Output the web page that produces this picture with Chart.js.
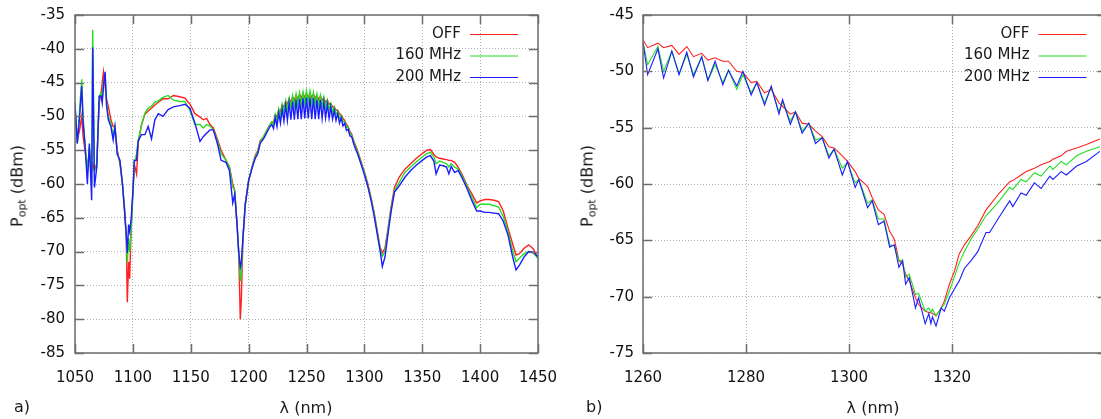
<!DOCTYPE html>
<html>
<head>
<meta charset="utf-8">
<script src="https://cdn.jsdelivr.net/npm/chart.js@4.4.0/dist/chart.umd.min.js"></script>
<style>
  html, body { margin: 0; padding: 0; background: #fff; overflow: hidden; width: 1101px; height: 419px; }
  canvas { position: absolute; top: 0; }
  #chartA { left: 0; }
  #chartB { left: 550px; }
  .lbl { position: absolute; font-family: "DejaVu Sans", sans-serif; font-size: 16px; color: #1a1a1a; white-space: nowrap; }
  .mid { transform: translate(-50%, -50%); }
  .ytitle { transform: translate(-50%, -50%) rotate(-90deg); }
  .ytitle sub { font-size: 11px; vertical-align: -3px; }
</style>
</head>
<body>
<canvas id="chartA" width="560" height="419"></canvas>
<canvas id="chartB" width="580" height="419"></canvas>

<div class="lbl ytitle" style="left:18px; top:186px;">P<sub>opt</sub> (dBm)</div>
<div class="lbl ytitle" style="left:588px; top:186px;">P<sub>opt</sub> (dBm)</div>
<div class="lbl mid" style="left:306px; top:407px;">λ (nm)</div>
<div class="lbl mid" style="left:873px; top:407px;">λ (nm)</div>
<div class="lbl" style="left:14px; top:397px;">a)</div>
<div class="lbl" style="left:586px; top:397px;">b)</div>

<script>
// a) full spectrum
const wlA = [
  1050, 1052, 1054, 1055.8, 1057, 1058.6, 1060.7, 1062.4, 1064.4, 1065.3,
  1066.8, 1068.8, 1070.9, 1072.6, 1073.5, 1074.6, 1076, 1077.3, 1078.8, 1081,
  1083, 1084.5, 1086.5, 1088.8, 1091, 1093, 1094.3, 1095.2, 1096.3, 1097.2,
  1098.6, 1100.4, 1101.2, 1103.2, 1104.6, 1107.5, 1110.4, 1113.2, 1116.1, 1119,
  1122, 1126, 1130.5, 1135, 1140.5, 1145, 1149.3, 1153.6, 1158, 1160.8,
  1163.7, 1166.6, 1169.5, 1173.3, 1176.2, 1180.5, 1183.4, 1186.3, 1188, 1190,
  1191.4, 1192.8, 1193.7, 1195.1, 1197.1, 1200, 1202.9, 1205.7, 1208, 1210,
  1213, 1216, 1218.5,
  1220, 1221.5, 1223, 1224.5, 1226, 1227.5, 1229, 1230.5, 1232, 1233.5,
  1235, 1236.5, 1238, 1239.5, 1241, 1242.5, 1244, 1245.5, 1247, 1248.5,
  1250, 1251.5, 1253, 1254.5, 1256, 1257.5, 1259, 1260.5, 1262, 1263.5,
  1265, 1266.5, 1268, 1269.5, 1271, 1272.5, 1274, 1275.5, 1277, 1278.5,
  1280, 1281.5, 1283, 1284.5, 1286, 1287.5, 1289,
  1291, 1294, 1297, 1300, 1303, 1306, 1308.5, 1311, 1313.5, 1315.5,
  1317.8, 1320.7, 1323, 1326, 1330, 1335, 1340, 1345, 1350, 1354,
  1357, 1360, 1362, 1365, 1368, 1371, 1373, 1375, 1378, 1381,
  1385, 1389, 1393, 1397, 1400, 1404, 1408, 1412, 1416, 1420,
  1424, 1428, 1431, 1434, 1438, 1442, 1446, 1450
];
const offA = [
  -49, -53.5, -52, -50, -53, -55, -58, -55, -58, -57,
  -58, -57, -48, -46.5, -45, -43.4, -45.5, -47.5, -48.5, -50.5,
  -51.5, -51.5, -55, -57, -60, -64, -68, -77.5, -71.5, -74,
  -66, -60, -57, -58.5, -54, -51.2, -49.7, -49.2, -48.8, -48.3,
  -47.9, -47.4, -47.4, -46.9, -47.1, -47.3, -48.2, -49.6, -50.1, -50.5,
  -50.3, -51.2, -51.7, -53.5, -55, -56.5, -57.5, -60, -61, -66,
  -70, -80, -77, -68, -63, -59.5, -57.5, -55.8, -55, -53.6,
  -53, -52, -51.2,
  -50.8, -50.9, -49.8, -50.0, -49.0, -49.3, -48.3, -48.6, -47.8, -48.2,
  -47.4, -47.9, -47.1, -47.6, -46.9, -47.4, -46.7, -47.3, -46.6, -47.2,
  -46.6, -47.2, -46.6, -47.2, -46.7, -47.3, -46.9, -47.5, -47.0, -47.6,
  -47.3, -47.9, -47.6, -48.2, -48.1, -48.6, -48.6, -49.1, -49.1, -49.6,
  -49.8, -50.3, -50.6, -51.2, -51.5, -52.2, -52.6,
  -53.7, -55.0, -56.6, -58.2, -60.0, -62.2, -64.3, -66.8, -69.3, -70.2,
  -69.5, -66.3, -63.5, -60.5, -59.0, -57.8, -57.0, -56.2, -55.5, -55.0,
  -54.9, -55.6, -56.0, -56.2, -56.3, -56.4, -56.5, -56.5, -56.8, -57.5,
  -58.8, -60.3, -61.5, -62.8, -62.5, -62.3, -62.3, -62.4, -62.6, -64.0,
  -66.5, -68.8, -70.5, -70.3, -69.5, -69.0, -69.6, -71.0
];
const mhz160A = [
  -48.5, -54, -49, -44.5, -50, -54, -58, -54.5, -60, -37.2,
  -58, -57.5, -47, -46.5, -47.5, -45, -44, -48, -50, -51,
  -53, -51.5, -55.5, -56.5, -60, -64.3, -68, -71.6, -68, -70,
  -67, -60, -57, -55.5, -53.6, -51.2, -49.5, -48.8, -48.5, -47.9,
  -47.7, -47.2, -46.9, -47.6, -47.8, -47.8, -49.1, -51.2, -51.2, -51.7,
  -51.2, -51.4, -52, -53.8, -55.5, -56.5, -57.5, -60.5, -61, -66,
  -70, -74.4, -73, -68, -63, -59.5, -57.5, -56, -55.2, -53.8,
  -53, -52, -51.2,
  -50.8, -51.3, -49.7, -50.7, -48.9, -50.0, -48.2, -49.4, -47.7, -49.0,
  -47.3, -48.7, -47.0, -48.5, -46.7, -48.3, -46.5, -48.2, -46.4, -48.1,
  -46.2, -48.0, -46.3, -48.1, -46.5, -48.2, -46.7, -48.4, -46.9, -48.5,
  -47.2, -48.7, -47.6, -49.0, -48.1, -49.4, -48.6, -49.8, -49.2, -50.3,
  -49.9, -50.8, -50.7, -51.6, -51.6, -52.5, -52.8,
  -53.9, -55.2, -56.8, -58.3, -60.2, -62.4, -64.5, -67.0, -69.5, -70.7,
  -70.0, -66.5, -63.8, -61.0, -59.8, -58.3, -57.5, -56.7, -56.0, -55.5,
  -55.3, -56.0, -57.0, -56.6, -56.8, -57.0, -57.5, -57.0, -57.5, -57.8,
  -59.0, -60.5, -62.0, -63.5, -63.0, -63.0, -63.0, -63.2, -63.4, -64.8,
  -67.0, -69.8, -71.5, -71.0, -70.3, -70.0, -70.2, -71.0
];
const mhz200A = [
  -48, -54, -50, -45.5, -51, -54, -60, -54, -62.4, -39.8,
  -60.5, -57.5, -47, -47, -48, -45.5, -43.4, -48.5, -50.5, -51.5,
  -53.5, -51.5, -55.6, -56.5, -60, -64.5, -67.5, -70.2, -66, -67,
  -65, -60, -56.5, -56.5, -53.6, -52.7, -52.7, -51.5, -53.3, -50.5,
  -49.6, -50, -49, -48.6, -48.4, -48.2, -48.8, -51, -53.7, -53,
  -52.5, -52, -52, -54.2, -56.5, -56.8, -58, -62.8, -61.5, -66,
  -70, -72.3, -71.5, -68, -63, -59.5, -57.7, -56.2, -55.5, -54,
  -53.3, -52.3, -51.5,
  -51.2, -51.8, -50.2, -51.5, -49.5, -51.0, -48.9, -50.7, -48.4, -50.6,
  -48.0, -50.5, -47.8, -50.5, -47.5, -50.4, -47.4, -50.4, -47.3, -50.3,
  -47.2, -50.3, -47.2, -50.4, -47.3, -50.4, -47.5, -50.4, -47.6, -50.3,
  -47.9, -50.2, -48.2, -50.3, -48.6, -50.4, -49.1, -50.6, -49.6, -51.0,
  -50.2, -51.4, -51.0, -52.1, -51.9, -52.9, -53.0,
  -54.2, -55.5, -57.0, -58.6, -60.4, -62.6, -64.8, -67.3, -69.8, -72.2,
  -70.8, -67.0, -64.2, -61.2, -60.3, -59.0, -58.0, -57.2, -56.5, -56.0,
  -55.8, -56.6, -58.5, -57.2, -57.3, -57.5, -58.5, -57.4, -58.3, -58.0,
  -59.3, -60.8, -62.5, -64.0, -64.0, -64.2, -64.2, -64.3, -64.4, -65.5,
  -67.5, -70.7, -72.7, -72.0, -70.8, -70.0, -70.1, -70.8
];

// b) zoom around 1310 nm
const wlB = [
  1260.0, 1260.9, 1262.9, 1264.0, 1265.6, 1267.0, 1268.5, 1269.8, 1271.4, 1272.6,
  1274.0, 1275.5, 1276.6, 1278.2, 1279.4, 1281.0, 1282.1, 1283.6, 1284.9, 1286.4,
  1287.1, 1288.6, 1289.6, 1290.9, 1292.2, 1293.5, 1294.8, 1296.1, 1297.1, 1298.7,
  1299.7, 1301.2, 1301.9, 1303.6, 1304.5, 1305.7, 1306.8, 1307.9, 1308.8, 1309.7,
  1310.4, 1311.0, 1311.7, 1312.9, 1313.5, 1314.8, 1315.5, 1315.9, 1316.2, 1316.9,
  1317.9, 1318.5, 1319.5, 1320.5, 1321.4, 1322.4, 1323.7, 1325.0, 1326.6, 1327.3,
  1329.2, 1331.2, 1331.8, 1333.4, 1334.4, 1336.0, 1337.3, 1339.0, 1339.6, 1341.2,
  1342.2, 1344.2, 1346.1, 1348.7
];
const offB = [
  -47.2, -47.9, -47.5, -47.9, -47.7, -48.5, -47.8, -48.7, -48.4, -49.0,
  -48.8, -49.1, -49.1, -50.0, -50.1, -51.0, -50.9, -51.9, -51.6, -52.8,
  -53.1, -53.8, -53.6, -54.6, -54.7, -55.3, -55.8, -56.7, -56.8, -57.5,
  -58.0, -58.9, -59.5, -60.2, -61.2, -62.3, -62.7, -64.2, -64.9, -66.8,
  -67.1, -68.0, -68.6, -70.1, -70.7, -71.3, -71.4, -71.4, -71.5, -71.7,
  -71.0, -70.4, -68.9, -67.7, -66.2, -65.4, -64.6, -63.7, -62.3, -61.9,
  -60.8, -59.8, -59.7, -59.2, -58.9, -58.6, -58.3, -58.0, -57.8, -57.5,
  -57.1, -56.8, -56.5, -56.0
];
const mhz160B = [
  -47.4, -49.4, -47.8, -50.0, -48.2, -50.2, -48.5, -50.3, -48.7, -50.8,
  -49.4, -51.0, -49.9, -51.6, -50.3, -51.9, -51.0, -52.8, -51.4, -53.6,
  -52.7, -54.4, -53.6, -55.3, -54.6, -56.1, -55.9, -57.5, -56.9, -58.6,
  -58.1, -59.9, -59.6, -61.7, -61.4, -63.1, -63.1, -65.4, -65.5, -66.8,
  -66.8, -68.3, -68.0, -69.8, -69.7, -71.3, -71.0, -71.4, -71.1, -71.7,
  -71.0, -70.7, -69.5, -68.2, -67.0, -66.0, -64.9, -64.0, -62.8, -62.5,
  -61.5, -60.3, -60.5, -59.6, -59.8, -59.0, -59.3, -58.4, -58.7, -58.0,
  -58.3, -57.5, -57.1, -56.7
];
const mhz200B = [
  -47.4, -50.3, -48.0, -50.6, -48.2, -50.3, -48.3, -50.5, -48.7, -50.8,
  -49.1, -51.2, -49.9, -51.3, -50.0, -52.1, -51.0, -53.0, -51.3, -53.8,
  -52.5, -54.7, -53.6, -55.5, -54.6, -56.4, -55.9, -57.7, -56.9, -59.2,
  -58.0, -60.3, -59.6, -62.1, -61.5, -63.6, -63.3, -65.6, -65.4, -67.4,
  -66.8, -68.9, -68.3, -71.0, -70.1, -72.4, -71.5, -72.4, -71.8, -72.6,
  -71.0, -71.3, -70.1, -69.3, -68.6, -67.5, -66.8, -66.0, -64.3, -64.3,
  -62.9, -61.5, -62.0, -60.8, -61.0, -59.9, -60.4, -59.3, -59.6, -58.9,
  -59.2, -58.4, -58.0, -57.1
];

const seriesNames = ['OFF', '160 MHz', '200 MHz'];
const seriesColors = ['rgb(255,32,32)', 'rgb(36,222,36)', 'rgb(28,28,255)'];

const font = { family: 'DejaVu Sans', size: 15 };

function toPoints(xs, ys) {
  return xs.map((x, i) => ({ x: x, y: ys[i] }));
}

// frame, inward tick marks and the inline legend
const framePlugin = {
  id: 'frame',
  afterDraw(chart) {
    const ctx = chart.ctx;
    const a = chart.chartArea;
    const xs = chart.scales.x, ys = chart.scales.y;
    ctx.save();
    ctx.strokeStyle = '#6e6e6e';
    ctx.lineWidth = 1.5;
    ctx.beginPath();
    xs.ticks.forEach(t => {
      const px = Math.round(xs.getPixelForValue(t.value)) + 0.5;
      ctx.moveTo(px, a.bottom); ctx.lineTo(px, a.bottom - 9);
      ctx.moveTo(px, a.top); ctx.lineTo(px, a.top + 9);
    });
    ys.ticks.forEach(t => {
      const py = Math.round(ys.getPixelForValue(t.value)) + 0.5;
      ctx.moveTo(a.left, py); ctx.lineTo(a.left + 9, py);
      ctx.moveTo(a.right, py); ctx.lineTo(a.right - 9, py);
    });
    ctx.stroke();
    ctx.strokeRect(a.left, a.top, a.right - a.left, a.bottom - a.top);

    ctx.font = '15px "DejaVu Sans"';
    ctx.textAlign = 'right';
    ctx.textBaseline = 'middle';
    chart.data.datasets.forEach((ds, i) => {
      const y = a.top + 19 + i * 21.5;
      ctx.fillStyle = '#1a1a1a';
      ctx.fillText(ds.label, a.right - 77, y);
      ctx.strokeStyle = ds.borderColor;
      ctx.lineWidth = 1.2;
      ctx.beginPath();
      ctx.moveTo(a.right - 68, y + 0.5);
      ctx.lineTo(a.right - 20, y + 0.5);
      ctx.stroke();
    });
    ctx.restore();
  }
};

function makeChart(id, wl, series, cfg) {
  return new Chart(document.getElementById(id), {
    type: 'line',
    data: {
      datasets: series.map((s, i) => ({
        label: seriesNames[i],
        data: toPoints(wl, s),
        borderColor: seriesColors[i],
        borderWidth: cfg.lineWidth,
        pointRadius: 0,
        tension: 0,
        order: 2 - i
      }))
    },
    options: {
      responsive: false,
      animation: false,
      devicePixelRatio: 1,
      layout: { padding: { left: 0, right: cfg.padRight, top: 15, bottom: 0 } },
      plugins: { legend: { display: false }, tooltip: { enabled: false } },
      scales: {
        x: {
          type: 'linear',
          min: cfg.xMin, max: cfg.xMax,
          ticks: { stepSize: cfg.xStep, padding: 16, font: font, color: '#111', maxRotation: 0, autoSkip: false,
                   callback: v => String(v) },
          grid: { color: '#b0b0b0', lineWidth: 1, drawTicks: false },
          border: { display: false, dash: [1, 2] },
          afterBuildTicks: s => { s.ticks = s.ticks.filter(t => (t.value - cfg.xMin) % cfg.xStep === 0); },
          afterFit: s => { s.height = 66; s.paddingLeft = 0; s.paddingRight = 0; }
        },
        y: {
          min: cfg.yMin, max: cfg.yMax,
          ticks: { stepSize: 5, padding: cfg.yPad, font: font, color: '#111', callback: v => String(v) },
          grid: { color: '#b0b0b0', lineWidth: 1, drawTicks: false },
          border: { display: false, dash: [1, 2] },
          afterFit: s => { s.width = cfg.yWidth; s.paddingTop = 0; s.paddingBottom = 0; }
        }
      }
    },
    plugins: [framePlugin]
  });
}

makeChart('chartA', wlA, [offA, mhz160A, mhz200A], {
  xMin: 1050, xMax: 1450, xStep: 50, yMin: -85, yMax: -35,
  yWidth: 75, yPad: 10, padRight: 22, lineWidth: 1.4
});
makeChart('chartB', wlB, [offB, mhz160B, mhz200B], {
  xMin: 1260, xMax: 1350, xStep: 20, yMin: -75, yMax: -45,
  yWidth: 93, yPad: 9, padRight: 23.5, lineWidth: 1.1
});
</script>
</body>
</html>
